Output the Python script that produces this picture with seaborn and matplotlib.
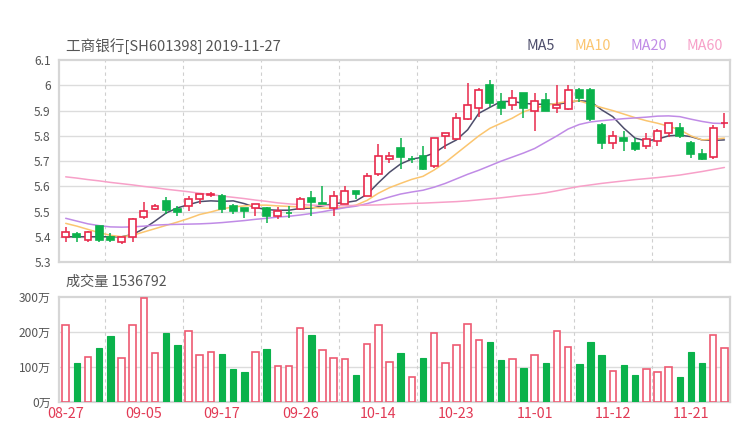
import matplotlib
matplotlib.use("Agg")
import numpy as np
import pandas as pd
import seaborn as sns
import matplotlib.pyplot as plt

# ---------------- data ----------------
dates = ["08-27", "08-28", "08-29", "08-30", "09-02", "09-03", "09-04", "09-05",
         "09-06", "09-09", "09-10", "09-11", "09-12", "09-16", "09-17", "09-18",
         "09-19", "09-20", "09-23", "09-24", "09-25", "09-26", "09-27", "09-30",
         "10-08", "10-09", "10-10", "10-11", "10-14", "10-15", "10-16", "10-17",
         "10-18", "10-21", "10-22", "10-23", "10-24", "10-25", "10-28", "10-29",
         "10-30", "10-31", "11-01", "11-04", "11-05", "11-06", "11-07", "11-08",
         "11-11", "11-12", "11-13", "11-14", "11-15", "11-18", "11-19", "11-20",
         "11-21", "11-22", "11-25", "11-26"]

opens = [5.401, 5.412, 5.390, 5.442, 5.401, 5.382, 5.401, 5.481, 5.511, 5.541,
         5.511, 5.522, 5.552, 5.566, 5.561, 5.522, 5.513, 5.513, 5.513, 5.482,
         5.493, 5.510, 5.553, 5.532, 5.513, 5.532, 5.582, 5.561, 5.649, 5.710,
         5.751, 5.707, 5.721, 5.679, 5.800, 5.788, 5.868, 5.909, 6.001, 5.932,
         5.921, 5.971, 5.900, 5.942, 5.909, 5.908, 5.982, 5.982, 5.841, 5.771,
         5.791, 5.771, 5.761, 5.780, 5.811, 5.830, 5.771, 5.730, 5.716, 5.850]
closes = [5.421, 5.399, 5.421, 5.388, 5.388, 5.400, 5.471, 5.501, 5.522, 5.508,
          5.498, 5.550, 5.570, 5.570, 5.511, 5.501, 5.501, 5.532, 5.482, 5.504,
          5.493, 5.551, 5.540, 5.532, 5.561, 5.581, 5.571, 5.640, 5.721, 5.721,
          5.718, 5.707, 5.668, 5.791, 5.811, 5.870, 5.921, 5.982, 5.929, 5.909,
          5.949, 5.912, 5.939, 5.900, 5.921, 5.982, 5.950, 5.868, 5.771, 5.800,
          5.779, 5.750, 5.789, 5.820, 5.850, 5.800, 5.730, 5.709, 5.830, 5.850]
highs = [5.439, 5.421, 5.424, 5.442, 5.417, 5.400, 5.476, 5.540, 5.531, 5.558,
         5.522, 5.561, 5.570, 5.579, 5.570, 5.530, 5.513, 5.532, 5.519, 5.519,
         5.521, 5.560, 5.581, 5.601, 5.581, 5.600, 5.582, 5.652, 5.769, 5.736,
         5.791, 5.721, 5.761, 5.791, 5.811, 5.889, 6.009, 5.988, 6.021, 5.968,
         5.982, 5.971, 5.968, 5.968, 6.000, 6.000, 5.988, 5.988, 5.850, 5.818,
         5.818, 5.791, 5.811, 5.829, 5.850, 5.850, 5.780, 5.750, 5.841, 5.891]
lows = [5.382, 5.382, 5.382, 5.382, 5.380, 5.371, 5.380, 5.472, 5.506, 5.490,
        5.485, 5.501, 5.532, 5.557, 5.493, 5.491, 5.474, 5.484, 5.455, 5.471,
        5.475, 5.505, 5.484, 5.529, 5.482, 5.532, 5.552, 5.561, 5.643, 5.693,
        5.668, 5.692, 5.666, 5.672, 5.749, 5.782, 5.863, 5.876, 5.913, 5.882,
        5.901, 5.870, 5.821, 5.900, 5.889, 5.903, 5.932, 5.858, 5.750, 5.750,
        5.741, 5.741, 5.750, 5.761, 5.797, 5.791, 5.711, 5.705, 5.709, 5.830]

# volume in 万 (10k) shares
volume = [220, 112, 129, 153, 189, 125, 221, 298, 141, 198,
          162, 204, 133, 142, 136, 93, 86, 143, 152, 102,
          102, 213, 191, 150, 127, 124, 76, 165, 220, 115,
          141, 71, 127, 196, 111, 164, 224, 177, 171, 120,
          124, 98, 133, 111, 203, 157, 109, 171, 135, 87,
          106, 78, 93, 84, 101, 70, 142, 111, 193, 153.68]

ma5 = [5.401, 5.401, 5.401, 5.401, 5.401, 5.401, 5.410, 5.433, 5.463, 5.495,
       5.515, 5.528, 5.540, 5.543, 5.541, 5.543, 5.532, 5.517, 5.508, 5.506,
       5.506, 5.513, 5.514, 5.523, 5.532, 5.536, 5.543, 5.569, 5.614, 5.656,
       5.689, 5.708, 5.716, 5.732, 5.761, 5.784, 5.824, 5.889, 5.913, 5.936,
       5.936, 5.929, 5.925, 5.925, 5.925, 5.932, 5.939, 5.936, 5.903, 5.876,
       5.830, 5.791, 5.780, 5.787, 5.800, 5.803, 5.797, 5.784, 5.782, 5.784]
ma10 = [5.454, 5.443, 5.430, 5.417, 5.407, 5.401, 5.407, 5.420, 5.433, 5.446,
        5.459, 5.473, 5.489, 5.499, 5.511, 5.519, 5.523, 5.526, 5.526, 5.523,
        5.521, 5.519, 5.517, 5.514, 5.514, 5.517, 5.526, 5.545, 5.573, 5.595,
        5.612, 5.628, 5.640, 5.665, 5.695, 5.730, 5.765, 5.800, 5.830, 5.850,
        5.870, 5.895, 5.910, 5.920, 5.929, 5.936, 5.938, 5.925, 5.912, 5.900,
        5.886, 5.872, 5.860, 5.850, 5.838, 5.824, 5.800, 5.784, 5.787, 5.791]
ma20 = [5.474, 5.463, 5.452, 5.445, 5.440, 5.439, 5.440, 5.443, 5.447, 5.449,
        5.450, 5.451, 5.452, 5.454, 5.457, 5.461, 5.465, 5.470, 5.474, 5.479,
        5.482, 5.487, 5.493, 5.500, 5.508, 5.516, 5.522, 5.532, 5.545, 5.558,
        5.570, 5.578, 5.585, 5.597, 5.612, 5.630, 5.648, 5.664, 5.682, 5.700,
        5.716, 5.732, 5.750, 5.775, 5.800, 5.827, 5.845, 5.855, 5.860, 5.864,
        5.868, 5.871, 5.874, 5.878, 5.879, 5.876, 5.866, 5.857, 5.850, 5.849]
ma60 = [5.638, 5.633, 5.627, 5.622, 5.616, 5.611, 5.606, 5.600, 5.595, 5.589,
        5.584, 5.579, 5.573, 5.568, 5.562, 5.557, 5.552, 5.546, 5.541, 5.535,
        5.531, 5.528, 5.526, 5.525, 5.524, 5.524, 5.525, 5.526, 5.527, 5.529,
        5.531, 5.533, 5.534, 5.536, 5.538, 5.540, 5.543, 5.547, 5.551, 5.555,
        5.560, 5.565, 5.569, 5.575, 5.583, 5.592, 5.600, 5.606, 5.612, 5.617,
        5.622, 5.627, 5.631, 5.635, 5.640, 5.645, 5.652, 5.659, 5.667, 5.675]

ma_names = ["MA5", "MA10", "MA20", "MA60"]
ma_colors = ["#4d4d6b", "#fbc56f", "#c08be6", "#f7a0c8"]

RED = "#e8294b"
GREEN = "#0ab24b"
VOL_RED = "#ee5a72"
GRID = "#dcdcdc"
BORDER = "#d6d6d6"
TXT = "#555555"

# ---------------- style ----------------
sns.set_theme(style="white")
plt.rcParams["font.family"] = ["Noto Sans CJK SC", "DejaVu Sans"]

df = pd.DataFrame({"idx": np.arange(len(dates)), "date": dates,
                   "open": opens, "close": closes, "high": highs, "low": lows,
                   "vol": volume, "MA5": ma5, "MA10": ma10, "MA20": ma20, "MA60": ma60})

# up/down like the original: flat candles look at previous close
prev = df["close"].shift(1).fillna(df["open"])
df["up"] = (df.close > df.open) | ((df.close == df.open) & (df.close >= prev))
df["vol_up"] = df.close >= df.open

fig = plt.figure(figsize=(7.4, 4.4), dpi=100)
W, H = 740, 440
L, R = 59, 730
ax = fig.add_axes([L / W, 1 - 262.3 / H, (R - L) / W, (262.3 - 60) / H])
axv = fig.add_axes([L / W, 1 - 401.7 / H, (R - L) / W, (401.7 - 297.3) / H])

n = len(df)
vgrid = np.arange(3.5, n, 7)

# ---------------- price panel ----------------
for i, ma in enumerate(ma_names):
    sns.lineplot(data=df, x="idx", y=ma, color=ma_colors[i], linewidth=1.1,
                 ax=ax, zorder=4, legend=False)

body_w = 0.62
for r in df.itertuples():
    col = RED if r.up else GREEN
    bot = min(r.open, r.close)
    top = max(r.open, r.close)
    ax.vlines(r.idx, r.low, r.high, color=col, linewidth=1.1, zorder=5)
    h = max(top - bot, 0.0012)
    ax.bar(r.idx, h, bottom=bot, width=body_w,
           color="white" if r.up else col, edgecolor=col,
           linewidth=1.2, zorder=6)

ax.set_xlim(-0.6, n - 0.5)
ax.set_ylim(5.3, 6.1)
ax.set_yticks(np.arange(5.3, 6.11, 0.1))
ax.set_yticklabels([f"{v:g}" for v in np.round(np.arange(5.3, 6.11, 0.1), 1)])
ax.set_xticks([])
ax.set_xlabel("")
ax.set_ylabel("")
for y in np.arange(5.4, 6.05, 0.1):
    ax.axhline(y, color=GRID, linewidth=1.0, zorder=0)
for x in vgrid:
    ax.axvline(x, color="#cfcfcf", linewidth=0.8, linestyle=(0, (3, 3)), zorder=0)

# ---------------- volume panel ----------------
for r in df.itertuples():
    if r.vol_up:
        axv.bar(r.idx, r.vol, width=0.58, color="white", edgecolor=VOL_RED,
                linewidth=1.2, zorder=3)
    else:
        axv.bar(r.idx, r.vol, width=0.58, color=GREEN, edgecolor=GREEN,
                linewidth=0.8, zorder=3)

axv.set_xlim(-0.6, n - 0.5)
axv.set_ylim(0, 300)
axv.set_yticks([0, 100, 200, 300])
axv.set_yticklabels(["0万", "100万", "200万", "300万"])
tick_pos = list(range(0, n, 7))
axv.set_xticks(tick_pos)
axv.set_xticklabels([dates[i] for i in tick_pos])
for y in [100, 200]:
    axv.axhline(y, color=GRID, linewidth=1.0, zorder=0)
for x in vgrid:
    axv.axvline(x, color="#cfcfcf", linewidth=0.8, linestyle=(0, (3, 3)), zorder=0)

for a in (ax, axv):
    for s in a.spines.values():
        s.set_color(BORDER)
        s.set_linewidth(1.6)
    a.tick_params(axis="y", length=0, pad=6, labelsize=8.6, labelcolor=TXT)
    a.grid(False)
axv.tick_params(axis="x", length=0, pad=4, labelsize=10.3, labelcolor="#e23a55")

# ---------------- texts ----------------
fig.text(66 / W, 1 - 46.5 / H, "工商银行[SH601398] 2019-11-27", fontsize=10.5,
         color=TXT, va="center", ha="left")
fig.text(66 / W, 1 - 281.7 / H, "成交量 1536792", fontsize=10.2,
         color=TXT, va="center", ha="left")
leg_x = [527, 575, 630, 686]
for name, col, lx in zip(ma_names, ma_colors, leg_x):
    fig.text(lx / W, 1 - 46 / H, name, fontsize=10.3, color=col,
             va="center", ha="left")

fig.savefig("out.png", dpi=100)
